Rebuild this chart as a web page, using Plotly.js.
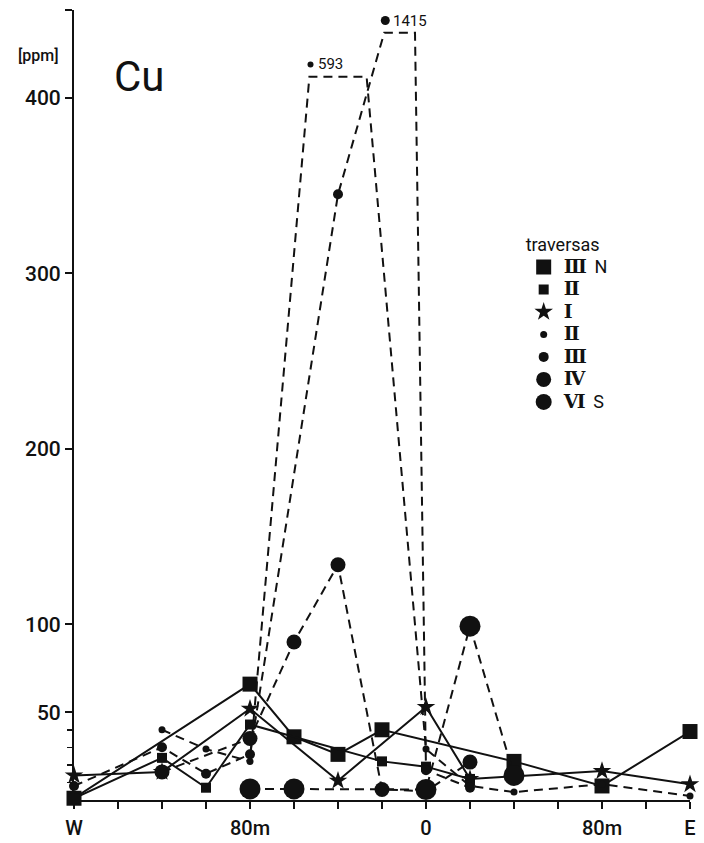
<!DOCTYPE html>
<html>
<head>
<meta charset="utf-8">
<script src="https://cdn.plot.ly/plotly-3.0.1.min.js"></script>
<style>
  html, body { margin: 0; padding: 0; background: #fff; }
  #chart { width: 704px; height: 843px; }
</style>
</head>
<body>
<div id="chart"></div>
<script>
// Cu content (ppm) along W–E profile, distance in metres from the 0 point.
const tickPositions = [-160, -140, -120, -100, -80, -60, -40, -20, 0, 20, 40, 60, 80, 100, 120];
const tickLabels    = ['W', '', '', '', '80m', '', '', '', '0', '', '', '', '80m', '', 'E'];
const yTickValues   = [50, 100, 200, 300, 400, 450];
const yTickLabels   = ['50', '100', '200', '300', '400', ''];
const yMinorTicks   = [10, 20, 30, 40];

// traversa III (N) – large squares
const trIIIN_x = [-160, -80, -60, -40, -20, 40, 80, 120];
const trIIIN_y = [1, 66, 36, 26, 40, 22, 8, 39];

// traversa II – small squares
const trIIsq_x = [-160, -120, -100, -80, -20, 0, 20];
const trIIsq_y = [1, 24, 7, 43, 22, 19, 12];

// traversa I – stars
const trI_x = [-160, -120, -80, -40, 0, 20, 80, 120];
const trI_y = [14, 16, 52, 11, 53, 12, 16.5, 9];

// traversa II – small dots
const trIIdot_x = [-120, -100, -80, -40, 0, 20, 40, 80, 120];
const trIIdot_y = [40, 29, 22, 593, 29, 8, 4.5, 9, 2.3];

// traversa III – medium dots
const trIIIdot_x = [-160, -120, -100, -80, -40, -12, 0, 20];
const trIIIdot_y = [8, 30, 15, 26, 345, 1415, 17, 7];

// traversa IV – large dots
const trIV_x = [-120, -80, -60, -40, -20, 0, 20];
const trIV_y = [16, 35, 90, 134, 6, 5, 21.6];

// traversa VI (S) – largest dots
const trVI_x = [-80, -60, 0, 20, 40];
const trVI_y = [6.3, 6.3, 6, 99, 14];

const legendNames = ['Ⅲ', 'Ⅱ', 'Ⅰ', 'Ⅱ', 'Ⅲ', 'Ⅳ', 'Ⅵ'];
const legendTags  = ['N', '', '', '', '', '', 'S'];

const AXIS_TOP = 450;
const INK = '#111';
const FONT = 'Roboto, Liberation Sans, sans-serif';

const series = [
  { x: trIIIN_x,   y: trIIIN_y,   symbol: 'square', size: 15, dash: 'solid' },
  { x: trIIsq_x,   y: trIIsq_y,   symbol: 'square', size: 10, dash: 'solid' },
  { x: trI_x,      y: trI_y,      symbol: 'star',   size: 14, dash: 'solid' },
  { x: trIIdot_x,  y: trIIdot_y,  symbol: 'circle', size: 7,  dash: '9px,6px', cap: 412, capHalf: 13 },
  { x: trIIIdot_x, y: trIIIdot_y, symbol: 'circle', size: 10, dash: '9px,6px', cap: 437, capHalf: 7 },
  { x: trIV_x,     y: trIV_y,     symbol: 'circle', size: 15, dash: '9px,6px' },
  { x: trVI_x,     y: trVI_y,     symbol: 'circle', size: 21, dash: '9px,6px' }
];

const traces = [];
const annotations = [];

series.forEach((s, k) => {
  // off-scale values are shown as a flat broken top with the true value written above
  const lx = [], ly = [], mx = [], my = [];
  s.x.forEach((xv, i) => {
    const v = s.y[i];
    if (v > AXIS_TOP) {
      lx.push(xv - s.capHalf, xv + s.capHalf);
      ly.push(s.cap, s.cap);
      traces.push({
        type: 'scatter', mode: 'markers', x: [xv - s.capHalf + 0.5], y: [s.cap + 7],
        marker: { symbol: 'circle', size: s.size - 1, color: INK },
        showlegend: false, hoverinfo: 'skip', cliponaxis: false
      });
      annotations.push({
        x: xv - s.capHalf + 3, y: s.cap + 7, xref: 'x', yref: 'y',
        text: String(v), showarrow: false, xanchor: 'left', yanchor: 'middle',
        font: { family: FONT, size: 15, color: INK }
      });
    } else {
      lx.push(xv); ly.push(v);
      mx.push(xv); my.push(v);
    }
  });
  traces.push({
    type: 'scatter', mode: 'lines', x: lx, y: ly,
    line: { color: INK, width: 2, dash: s.dash },
    showlegend: false, hoverinfo: 'skip', cliponaxis: false
  });
  traces.push({
    type: 'scatter', mode: 'markers', x: mx, y: my,
    marker: { symbol: s.symbol, size: s.size, color: INK, line: { width: 0 } },
    showlegend: false, cliponaxis: false
  });
  // legend key: marker only
  const tag = legendTags[k] ? '\u2002<span style="font-size:18px">' + legendTags[k] + '</span>' : '';
  traces.push({
    type: 'scatter', mode: 'markers', x: [null], y: [null],
    marker: { symbol: s.symbol, size: s.size, color: INK },
    name: '<span style="font-family:DejaVu Serif;font-size:19px"><b>' + legendNames[k] + '</b></span>' + tag,
    showlegend: true
  });
});

annotations.push({
  xref: 'paper', yref: 'paper', x: 0.106, y: 0.916, text: 'Cu', showarrow: false,
  xanchor: 'center', yanchor: 'middle',
  font: { family: FONT, size: 42, color: INK }
});
annotations.push({
  xref: 'paper', yref: 'paper', x: -0.057, y: 0.943, text: '[ppm]', showarrow: false,
  xanchor: 'center', yanchor: 'middle',
  font: { family: FONT, size: 16, color: INK, weight: 500 }
});

const layout = {
  width: 704, height: 843,
  margin: { l: 74, r: 14, t: 10, b: 43, pad: 0 },
  paper_bgcolor: '#fff', plot_bgcolor: '#fff',
  font: { family: FONT, color: INK },
  xaxis: {
    range: [-160, 120], showgrid: false, zeroline: false,
    showline: true, linecolor: INK, linewidth: 2,
    ticks: 'outside', ticklen: 7, tickwidth: 2, tickcolor: INK,
    tickmode: 'array', tickvals: tickPositions, ticktext: tickLabels,
    tickfont: { size: 20, color: INK, weight: 500 }, ticklabelstandoff: 2
  },
  yaxis: {
    range: [0, AXIS_TOP], showgrid: false, zeroline: false,
    showline: true, linecolor: INK, linewidth: 2,
    ticks: 'outside', ticklen: 7, tickwidth: 2, tickcolor: INK,
    tickmode: 'array', tickvals: yTickValues, ticktext: yTickLabels,
    tickfont: { size: 21, color: INK, weight: 500 },
    minor: { tickmode: 'array', tickvals: yMinorTicks, ticks: 'outside', ticklen: 5, tickwidth: 1.5, tickcolor: INK, showgrid: false }
  },
  legend: {
    x: 0.73, y: 0.725, xanchor: 'left', yanchor: 'top',
    bgcolor: 'rgba(0,0,0,0)', borderwidth: 0,
    font: { family: FONT, size: 15, color: INK },
    title: { text: 'traversas', font: { size: 18, color: INK }, side: 'top' },
    itemsizing: 'trace', itemwidth: 30, tracegroupgap: 0
  },
  annotations: annotations,
  showlegend: true
};

Plotly.newPlot('chart', traces, layout, { staticPlot: true, displayModeBar: false });
</script>
</body>
</html>
